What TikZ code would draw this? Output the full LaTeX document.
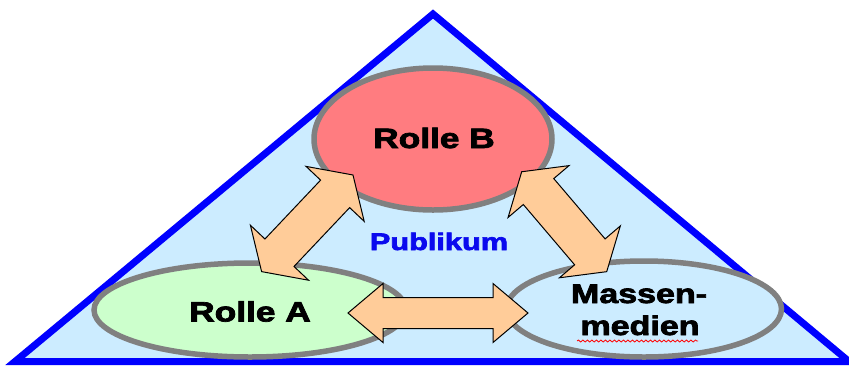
\documentclass[tikz,border=0pt]{standalone}
\usepackage{fontspec}
\setmainfont{Liberation Sans}[BoldFeatures={FakeBold=2.5}]
\usetikzlibrary{shapes.geometric,decorations.pathmorphing}
\definecolor{tribg}{HTML}{CCECFF}
\definecolor{triedge}{HTML}{0000FF}
\definecolor{rollebfill}{HTML}{FF7C80}
\definecolor{rolleafill}{HTML}{CCFFCC}
\definecolor{ringgray}{HTML}{808080}
\definecolor{arrfill}{HTML}{FFCC99}
\definecolor{pubblue}{HTML}{0A0AEE}
\newcommand{\blockdarrow}[7]{%
  \begin{scope}[shift={(#1,#2)},rotate=#3]
    \draw[arrbody] (#4,0) -- ({#4-#5},#6) -- ({#4-#5},#7) -- ({-#4+#5},#7)
      -- ({-#4+#5},#6) -- (-#4,0) -- ({-#4+#5},-#6) -- ({-#4+#5},-#7)
      -- ({#4-#5},-#7) -- ({#4-#5},-#6) -- cycle;
  \end{scope}}
\newcommand{\lblfont}[1]{\fontsize{#1}{32}\selectfont\bfseries}
\begin{document}
\begin{tikzpicture}[x=1pt,y=-1pt,
  role/.style={ellipse, draw=ringgray, line width=5.5pt, inner sep=0pt},
  arrbody/.style={draw=black, fill=arrfill, line width=1pt, line join=miter},
  lbl/.style={anchor=base, inner sep=0pt, text=black}]
\useasboundingbox (0,0) rectangle (849,365);
\fill[white] (0,0) rectangle (849,365);
% Publikum triangle
\coordinate (apex) at (433,14);
\coordinate (bl) at (15,361.5);
\coordinate (br) at (849,361.5);
\draw[triedge, fill=tribg, line width=7pt] (apex) -- (br) -- (bl) -- cycle;
% role ellipses
\node[role, fill=rolleafill, minimum width=312pt, minimum height=94pt] (rolleA) at (250,310) {};
\node[role, fill=tribg, minimum width=275pt, minimum height=96pt] (medien) at (644,309) {};
\node[role, fill=rollebfill, minimum width=238pt, minimum height=142pt] (rolleB) at (433,139) {};
% double block arrows
\blockdarrow{307.3}{223.3}{46.6}{66.5}{26}{40}{20}
\blockdarrow{564.2}{221.7}{-49.6}{65.6}{26}{40}{20}
\blockdarrow{438}{313}{0}{90}{35}{29.5}{15.5}
% labels
\node[lbl] (labB) at (434,148) {\lblfont{28}\scalebox{1.26}[1]{Rolle B}};
\node[lbl] (labA) at (250,321.5) {\lblfont{28}\scalebox{1.26}[1]{Rolle A}};
\node[lbl, text=pubblue] (pub) at (439,250) {\lblfont{24}\scalebox{1.28}[1]{Publikum}};
\node[lbl] (labM1) at (639,303) {\lblfont{27}\scalebox{1.26}[1]{Massen-}};
\node[lbl] (labM2) at (640,335) {\lblfont{27}\scalebox{1.26}[1]{medien}};
\coordinate (wavL) at (577,341);
\coordinate (wavR) at (698,341);
\draw[red, line width=0.8pt, decorate, decoration={snake, segment length=4.5pt, amplitude=1pt}] (wavL) -- (wavR);
\end{tikzpicture}
\end{document}
